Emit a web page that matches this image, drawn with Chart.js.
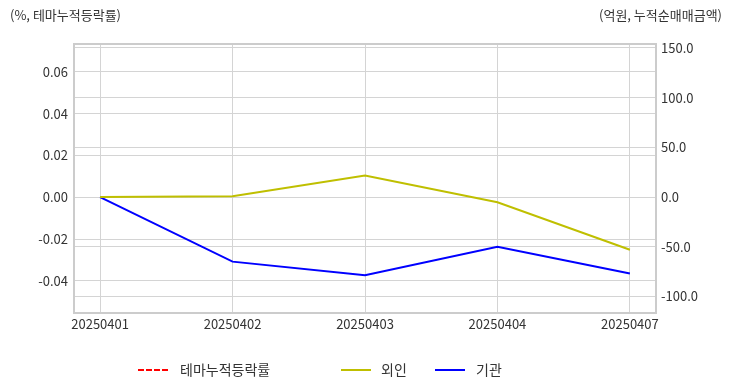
<!DOCTYPE html>
<html>
<head>
<meta charset="utf-8">
<script src="https://cdn.jsdelivr.net/npm/chart.js@4.4.1/dist/chart.umd.min.js"></script>
<style>
  html, body { margin: 0; padding: 0; background: #fff; }
  #wrap { position: relative; width: 732px; height: 392px; font-family: "Noto Sans CJK KR", "Noto Sans", sans-serif; color: #333; }
  canvas { position: absolute; left: 0; top: 0; }
  .ttl { position: absolute; top: 5px; font-size: 13px; color: #333; white-space: nowrap; }
  .leg { position: absolute; top: 359px; font-size: 14px; color: #333; white-space: nowrap; }
  .sw { position: absolute; top: 369px; width: 30px; height: 0; }
</style>
</head>
<body>
<div id="wrap">
  <canvas id="c" width="732" height="392"></canvas>
  <div class="ttl" style="left:10px;">(%, 테마누적등락률)</div>
  <div class="ttl" style="right:10px;">(억원, 누적순매매금액)</div>
  <div class="sw" style="left:138px; border-top:2px dashed #ff0000;"></div>
  <div class="leg" style="left:180px;">테마누적등락률</div>
  <div class="sw" style="left:341px; border-top:2px solid #bfbf00;"></div>
  <div class="leg" style="left:381px;">외인</div>
  <div class="sw" style="left:435px; border-top:2px solid #0000ff;"></div>
  <div class="leg" style="left:476px;">기관</div>
</div>
<script>
const categories = ["20250401", "20250402", "20250403", "20250404", "20250407"];
const themeRate = [null, null, null, null, null];
const foreignNet = [0, 0.7, 21.7, -5.3, -53];
const instNet = [0, -65, -78.7, -50, -77];
const leftTicks = [-0.04, -0.02, 0.00, 0.02, 0.04, 0.06];
const rightTicks = [-100, -50, 0, 50, 100, 150];

const toXY = arr => arr.map((v, i) => ({ x: i, y: v }));
const tickFont = { family: "'Noto Sans CJK KR', 'Noto Sans', sans-serif", size: 13 };
const gridColor = '#d4d4d4';

const framePlugin = {
  id: 'frame',
  afterDraw(chart) {
    const a = chart.chartArea, ctx = chart.ctx;
    ctx.save();
    ctx.strokeStyle = '#cccccc';
    ctx.lineWidth = 2;
    ctx.strokeRect(a.left, a.top, a.right - a.left, a.bottom - a.top);
    ctx.restore();
  }
};

new Chart(document.getElementById('c'), {
  type: 'line',
  data: {
    datasets: [
      { label: '테마누적등락률', data: toXY(themeRate), yAxisID: 'yL', borderColor: '#ff0000', borderDash: [6, 4], borderWidth: 2, pointRadius: 0, fill: false, order: 1 },
      { label: '외인', data: toXY(foreignNet), yAxisID: 'yR', borderColor: '#bfbf00', borderWidth: 2, pointRadius: 0, fill: false, tension: 0 },
      { label: '기관', data: toXY(instNet), yAxisID: 'yR', borderColor: '#0000ff', borderWidth: 2, pointRadius: 0, fill: false, tension: 0 }
    ]
  },
  options: {
    responsive: false,
    animation: false,
    layout: { padding: { top: 44, bottom: 0, left: 0, right: 0 } },
    plugins: { legend: { display: false }, tooltip: { enabled: false } },
    scales: {
      x: {
        type: 'linear',
        min: -0.197, max: 4.197,
        afterFit: s => { s.height = 79; },
        afterBuildTicks: s => { s.ticks = categories.map((_, i) => ({ value: i })); },
        ticks: { callback: v => categories[v] ?? '', color: '#333', font: tickFont, padding: 3, maxRotation: 0, autoSkip: false },
        grid: { color: gridColor, lineWidth: 1, drawTicks: false },
        border: { display: false }
      },
      yL: {
        position: 'left',
        min: -0.0554, max: 0.0733,
        afterFit: s => { s.width = 74; },
        afterBuildTicks: s => { s.ticks = leftTicks.map(v => ({ value: v })); },
        ticks: { callback: v => v.toFixed(2), color: '#333', font: tickFont, padding: 6 },
        grid: { color: gridColor, lineWidth: 1, drawTicks: false },
        border: { display: false }
      },
      yR: {
        position: 'right',
        min: -116.7, max: 154,
        afterFit: s => { s.width = 76; },
        afterBuildTicks: s => { s.ticks = rightTicks.map(v => ({ value: v })); },
        ticks: { callback: v => v.toFixed(1), color: '#333', font: tickFont, padding: 5 },
        grid: { color: gridColor, lineWidth: 1, drawTicks: false },
        border: { display: false }
      }
    }
  },
  plugins: [framePlugin]
});
</script>
</body>
</html>
